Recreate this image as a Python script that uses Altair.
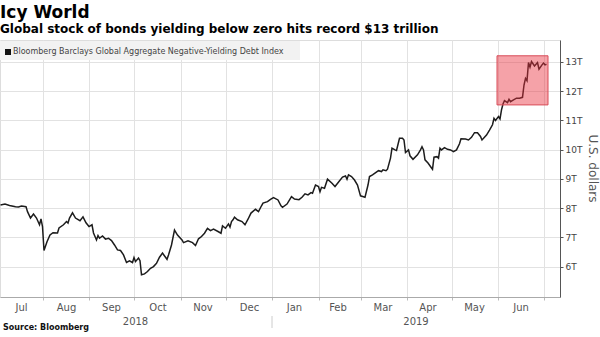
import altair as alt
import pandas as pd

# ---------------- data ----------------
dates = [
    "2018-07-04", "2018-07-07", "2018-07-10", "2018-07-14", "2018-07-16", "2018-07-18",
    "2018-07-21", "2018-07-22", "2018-07-24", "2018-07-26", "2018-07-28", "2018-07-30",
    "2018-07-31", "2018-08-01", "2018-08-02", "2018-08-04", "2018-08-06", "2018-08-08",
    "2018-08-11", "2018-08-12", "2018-08-15", "2018-08-17", "2018-08-18", "2018-08-19",
    "2018-08-21", "2018-08-23", "2018-08-26", "2018-08-28", "2018-08-30", "2018-09-01",
    "2018-09-03", "2018-09-04", "2018-09-06", "2018-09-07", "2018-09-08", "2018-09-10",
    "2018-09-12", "2018-09-14", "2018-09-16", "2018-09-18", "2018-09-20", "2018-09-22",
    "2018-09-24", "2018-09-26", "2018-09-28", "2018-09-30", "2018-10-01", "2018-10-02",
    "2018-10-04", "2018-10-05", "2018-10-06", "2018-10-08", "2018-10-10", "2018-10-12",
    "2018-10-14", "2018-10-16", "2018-10-18", "2018-10-20", "2018-10-22", "2018-10-23",
    "2018-10-24", "2018-10-26", "2018-10-28", "2018-10-30", "2018-11-02", "2018-11-03",
    "2018-11-06", "2018-11-09", "2018-11-11", "2018-11-13", "2018-11-15", "2018-11-17",
    "2018-11-19", "2018-11-21", "2018-11-23", "2018-11-26", "2018-11-28", "2018-11-29",
    "2018-12-01", "2018-12-03", "2018-12-04", "2018-12-05", "2018-12-06", "2018-12-07",
    "2018-12-09", "2018-12-12", "2018-12-14", "2018-12-16", "2018-12-18", "2018-12-21",
    "2018-12-23", "2018-12-25", "2018-12-26", "2018-12-29", "2018-12-31", "2019-01-02",
    "2019-01-05", "2019-01-07", "2019-01-08", "2019-01-11", "2019-01-14", "2019-01-16",
    "2019-01-19", "2019-01-21", "2019-01-23", "2019-01-25", "2019-01-27", "2019-01-28",
    "2019-01-30", "2019-02-01", "2019-02-02", "2019-02-03", "2019-02-05", "2019-02-07",
    "2019-02-10", "2019-02-12", "2019-02-14", "2019-02-17", "2019-02-19", "2019-02-20",
    "2019-02-21", "2019-02-23", "2019-02-25", "2019-02-27", "2019-03-01", "2019-03-03",
    "2019-03-04", "2019-03-06", "2019-03-07", "2019-03-09", "2019-03-13", "2019-03-15",
    "2019-03-16", "2019-03-18", "2019-03-19", "2019-03-21", "2019-03-22", "2019-03-24",
    "2019-03-25", "2019-03-27", "2019-03-29", "2019-03-30", "2019-03-31", "2019-04-02",
    "2019-04-03", "2019-04-05", "2019-04-08", "2019-04-10", "2019-04-11", "2019-04-12",
    "2019-04-13", "2019-04-15", "2019-04-17", "2019-04-18", "2019-04-19", "2019-04-21",
    "2019-04-22", "2019-04-23", "2019-04-24", "2019-04-26", "2019-04-28", "2019-04-30",
    "2019-05-02", "2019-05-04", "2019-05-06", "2019-05-07", "2019-05-10", "2019-05-12",
    "2019-05-14", "2019-05-16", "2019-05-18", "2019-05-20", "2019-05-21", "2019-05-24",
    "2019-05-26", "2019-05-28", "2019-05-29", "2019-05-30", "2019-06-01", "2019-06-02",
    "2019-06-03", "2019-06-04", "2019-06-05", "2019-06-07", "2019-06-08", "2019-06-09",
    "2019-06-11", "2019-06-13", "2019-06-15", "2019-06-17", "2019-06-18", "2019-06-19",
    "2019-06-20", "2019-06-21", "2019-06-22", "2019-06-23", "2019-06-25", "2019-06-27",
    "2019-06-28", "2019-06-30", "2019-07-01", "2019-07-02", "2019-07-03",
]
values = [
    8.11, 8.14, 8.09, 8.05, 8.04, 8.07,
    8.05, 7.88, 7.66, 7.80, 7.66, 7.43,
    7.63, 7.37, 6.55, 6.85, 7.08, 7.16,
    7.15, 7.32, 7.43, 7.54, 7.49, 7.66,
    7.84, 7.66, 7.57, 7.70, 7.50, 7.37,
    7.43, 7.15, 6.91, 7.06, 6.97, 7.05,
    6.94, 6.97, 6.89, 6.74, 6.57, 6.55,
    6.40, 6.14, 6.20, 6.14, 6.31, 6.17,
    6.29, 6.20, 5.72, 5.75, 5.83, 5.94,
    6.00, 6.11, 6.32, 6.46, 6.32, 6.25,
    6.40, 6.74, 7.25, 7.08, 6.91, 6.82,
    6.88, 6.82, 6.72, 6.95, 7.03, 7.14,
    7.31, 7.23, 7.28, 7.20, 7.14, 7.39,
    7.31, 7.46, 7.35, 7.54, 7.60, 7.69,
    7.60, 7.54, 7.43, 7.62, 7.83, 7.96,
    7.88, 8.08, 8.17, 8.22, 8.30, 8.36,
    8.28, 8.08, 8.03, 8.14, 8.39, 8.31,
    8.29, 8.37, 8.49, 8.45, 8.53, 8.51,
    8.79, 8.74, 8.56, 8.71, 8.68, 8.99,
    8.85, 8.74, 8.87, 9.06, 9.10, 8.99,
    9.14, 9.08, 8.96, 8.79, 8.42, 8.39,
    8.37, 8.79, 9.08, 9.14, 9.28, 9.25,
    9.31, 9.28, 9.33, 9.71, 10.05, 9.99,
    9.97, 10.39, 10.39, 10.33, 9.90, 9.99,
    9.79, 9.67, 9.82, 9.99, 10.10, 9.99,
    9.65, 9.54, 9.40, 9.33, 9.74, 9.76,
    9.71, 10.05, 9.99, 10.07, 10.01, 9.99,
    9.93, 9.99, 10.20, 10.37, 10.36, 10.33,
    10.42, 10.58, 10.58, 10.45, 10.33, 10.50,
    10.67, 10.85, 11.07, 11.00, 11.13, 11.05,
    11.36, 11.56, 11.68, 11.61, 11.72, 11.64,
    11.70, 11.76, 11.76, 11.79, 12.21, 12.44,
    12.36, 12.98, 12.82, 13.01, 12.86, 12.98,
    12.75, 12.90, 12.96, 12.90, 12.92,
]

month_labels = ["Jul", "Aug", "Sep", "Oct", "Nov", "Dec",
                "Jan", "Feb", "Mar", "Apr", "May", "Jun"]
month_label_dates = ["2018-07-18", "2018-08-17", "2018-09-16", "2018-10-17",
                     "2018-11-16", "2018-12-17", "2019-01-16", "2019-02-14",
                     "2019-03-16", "2019-04-15", "2019-05-16", "2019-06-16"]
year_labels = ["2018", "2019"]
year_label_dates = ["2018-10-02", "2019-04-07"]
year_break = ["2019-01-01"]
y_ticks = [6, 7, 8, 9, 10, 11, 12, 13]

highlight_start = ["2019-05-31"]
highlight_end = ["2019-07-04"]
highlight_low = [11.53]
highlight_high = [13.21]

title_text = "Icy World"
subtitle_text = "Global stock of bonds yielding below zero hits record $13 trillion"
legend_text = "Bloomberg Barclays Global Aggregate Negative-Yielding Debt Index"
source_text = "Source: Bloomberg"
y_title = "U.S. dollars"

# ---------------- chart ----------------
FONT = "DejaVu Sans"
GRID = "#e2e2e2"
df = pd.DataFrame({"date": dates, "value": values})
one = pd.DataFrame({"k": [0]})

x_scale = alt.Scale(domain=[alt.DateTime(year=2018, month=7, date=3, hours=16, utc=True),
                            alt.DateTime(year=2019, month=7, date=12, utc=True)])
y_scale = alt.Scale(domain=[4.96, 13.75], nice=False, zero=False)

month_starts = [alt.DateTime(year=y, month=m, date=1, utc=True)
                for y, m in [(2018, 8), (2018, 9), (2018, 10), (2018, 11), (2018, 12),
                             (2019, 1), (2019, 2), (2019, 3), (2019, 4), (2019, 5),
                             (2019, 6), (2019, 7)]]

x_axis = alt.Axis(values=month_starts, grid=True, gridColor=GRID, gridWidth=1,
                  labels=False, ticks=True, tickSize=3, tickColor="#bbbbbb",
                  domainColor="#aaaaaa", title=None)
y_axis = alt.Axis(orient="right", values=y_ticks, grid=True, gridColor=GRID, gridWidth=1,
                  labelExpr="datum.value + 'T'", labelFont=FONT, labelFontSize=9,
                  labelColor="#444444", labelPadding=2, tickSize=3,
                  tickColor="#555555", domainColor="#555555",
                  title=y_title, titleAngle=90, titleX=32, titleY=128,
                  titleAlign="center", titleBaseline="middle", titleFont=FONT,
                  titleFontSize=12, titleFontWeight="normal", titleColor="#555555")

legend_bg = alt.Chart(one).mark_rect(fill="#f2f2f2").encode(
    x=alt.value(0), x2=alt.value(300), y=alt.value(1), y2=alt.value(20))
legend_sq = alt.Chart(one).mark_rect(fill="#111111").encode(
    x=alt.value(5), x2=alt.value(11), y=alt.value(9), y2=alt.value(15))
legend_tx = alt.Chart(pd.DataFrame({"t": [legend_text]})).mark_text(
    font=FONT, fontSize=8, color="#444444", align="left", baseline="middle").encode(
    x=alt.value(13), y=alt.value(12), text="t:N")

line = alt.Chart(df).mark_line(color="#1c1c1c", strokeWidth=1.5).encode(
    x=alt.X("date:T", scale=x_scale, axis=x_axis),
    y=alt.Y("value:Q", scale=y_scale, axis=y_axis),
)

hl_df = pd.DataFrame({"date": highlight_start, "end": highlight_end,
                      "value": highlight_low, "high": highlight_high})
highlight = alt.Chart(hl_df).mark_rect(fill="#e8303f", fillOpacity=0.45,
                                       stroke="#d84c59", strokeWidth=1).encode(
    x=alt.X("date:T", scale=x_scale, axis=x_axis), x2="end:T",
    y=alt.Y("value:Q", scale=y_scale, axis=y_axis), y2="high:Q")

months = alt.Chart(pd.DataFrame({"label": month_labels, "date": month_label_dates})).mark_text(
    font=FONT, fontSize=10, color="#555555", baseline="middle").encode(
    x=alt.X("date:T", scale=x_scale, axis=x_axis), y=alt.value(268), text="label:N")
years = alt.Chart(pd.DataFrame({"label": year_labels, "date": year_label_dates})).mark_text(
    font=FONT, fontSize=10, color="#555555", baseline="middle").encode(
    x=alt.X("date:T", scale=x_scale, axis=x_axis), y=alt.value(282), text="label:N")
sep = alt.Chart(pd.DataFrame({"date": year_break})).mark_rule(color="#cccccc").encode(
    x=alt.X("date:T", scale=x_scale, axis=x_axis), y=alt.value(276), y2=alt.value(288))

title = alt.Chart(pd.DataFrame({"t": [title_text]})).mark_text(
    font=FONT, fontSize=17, fontWeight="bold", color="#000000", align="left",
    baseline="alphabetic").encode(x=alt.value(0), y=alt.value(-22), text="t:N")
subtitle = alt.Chart(pd.DataFrame({"t": [subtitle_text]})).mark_text(
    font=FONT, fontSize=12, fontWeight="bold", color="#000000", align="left",
    baseline="alphabetic").encode(x=alt.value(0), y=alt.value(-7), text="t:N")
source = alt.Chart(pd.DataFrame({"t": [source_text]})).mark_text(
    font=FONT, fontSize=8, fontWeight="bold", color="#111111", align="left",
    baseline="middle").encode(x=alt.value(3), y=alt.value(288), text="t:N")

chart = alt.layer(
    legend_bg, line, highlight, legend_sq, legend_tx, months, years, sep,
    title, subtitle, source
).properties(
    width=560, height=257,
    autosize=alt.AutoSizeParams(type="none"),
    padding={"left": 0, "top": 40, "right": 40, "bottom": 40},
).configure_view(strokeWidth=0).configure(background="white")

chart.save("out.html", embed_options={"renderer": "svg", "actions": False})
